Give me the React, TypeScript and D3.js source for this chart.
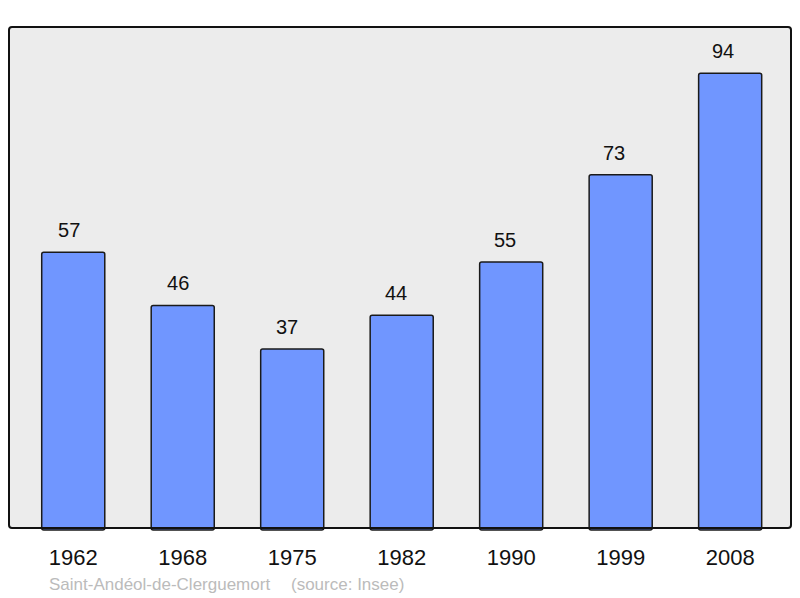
import React from "react";
import * as d3 from "d3";

const years = ["1962", "1968", "1975", "1982", "1990", "1999", "2008"];
const population = [57, 46, 37, 44, 55, 73, 94];
const sourceName = "Saint-Andéol-de-Clerguemort";
const sourceNote = "(source: Insee)";

const W = 800;
const H = 598;
const frame = { x: 9, y: 27, w: 782, h: 501 };
const font = "'Liberation Sans', Arial, sans-serif";

export default function App() {
  const x = d3
    .scaleBand<string>()
    .domain(years)
    .range([18.5, 784.9])
    .paddingInner(0.424)
    .paddingOuter(0.212);
  const labelX = d3
    .scalePoint<string>()
    .domain(years)
    .range([69.2, 723]);
  const y = d3.scaleLinear().domain([0, 100]).range([528, 44.2]);

  return (
    <svg
      width={W}
      height={H}
      style={{ position: "absolute", left: 0, top: 0 }}
      fontFamily={font}
    >
      <rect x={0} y={0} width={W} height={H} fill="#ffffff" />
      <rect
        x={frame.x}
        y={frame.y}
        width={frame.w}
        height={frame.h}
        rx={3}
        fill="#ececec"
        stroke="none"
      />
      {years.map((yr, i) => {
        const bx = x(yr)!;
        const by = y(population[i]);
        return (
          <g key={yr}>
            <rect
              x={bx}
              y={by}
              width={x.bandwidth()}
              height={y(0) - by + 2}
              rx={2}
              fill="#7096ff"
              stroke="#1a1a1a"
              strokeWidth={1.5}
            />
            <text
              x={labelX(yr)!}
              y={by - 15}
              textAnchor="middle"
              fontSize={20}
              fill="#111"
            >
              {population[i]}
            </text>
            <text
              x={bx + x.bandwidth() / 2}
              y={565}
              textAnchor="middle"
              fontSize={22}
              fill="#111"
            >
              {yr}
            </text>
          </g>
        );
      })}
      <rect
        x={frame.x}
        y={frame.y}
        width={frame.w}
        height={frame.h}
        rx={3}
        fill="none"
        stroke="#111"
        strokeWidth={2}
      />
      <text x={49} y={590} fontSize={17} fill="#bbbbbb">
        {sourceName}
      </text>
      <text x={291} y={590} fontSize={17} fill="#bbbbbb">
        {sourceNote}
      </text>
    </svg>
  );
}
